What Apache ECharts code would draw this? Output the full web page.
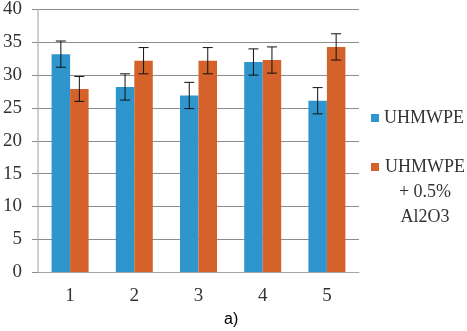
<!DOCTYPE html>
<html lang="en">
<head>
    <meta charset="UTF-8">
    <title>Chart</title>
    <script src="https://cdn.jsdelivr.net/npm/echarts@6/dist/echarts.min.js"></script>
</head>
<body style="margin:0">
    <div id="ec" style="width:467px;height:331px"></div>
</body>
<script>
    var categories = ['1', '2', '3', '4', '5']
    var names = ['UHMWPE', 'UHMWPE + 0.5% Al2O3']
    var pure = [33.2, 28.2, 26.9, 32.0, 26.1]
    var pureErr = [2.0, 2.0, 2.0, 2.0, 2.0]
    var filled = [27.9, 32.2, 32.2, 32.3, 34.3]
    var filledErr = [1.9, 2.0, 2.0, 2.0, 2.0]

    var barW = 18.5
    var serif = 'Liberation Serif'

    // [category index, low, high, side]
    var errData = []
    pure.forEach(function (v, i) { errData.push([i, v - pureErr[i], v + pureErr[i], -1]) })
    filled.forEach(function (v, i) { errData.push([i, v - filledErr[i], v + filledErr[i], 1]) })

    var mychart = echarts.init(document.getElementById('ec'))
    var options = {
        animation: false,
        grid: { left: 38, right: 108, top: 7, bottom: 59 },
        legend: [{
            orient: 'vertical',
            left: 366,
            top: 104,
            icon: 'rect',
            itemWidth: 8,
            itemHeight: 8,
            data: [names[0]],
            textStyle: { fontFamily: serif, fontSize: 18, color: '#333' }
        }, {
            orient: 'vertical',
            left: 366,
            top: 153,
            icon: 'rect',
            itemWidth: 8,
            itemHeight: 8,
            data: [names[1]],
            formatter: function () { return '{a|UHMWPE}\n{a|+ 0.5%}\n{a|Al2O3}' },
            textStyle: {
                fontFamily: serif, fontSize: 18, color: '#333',
                padding: [50, 0, 0, 0],
                rich: { a: { fontFamily: serif, fontSize: 18, color: '#333', width: 82, align: 'center', lineHeight: 25 } }
            }
        }],
        xAxis: {
            type: 'category',
            data: categories,
            axisLine: { lineStyle: { color: '#A6A6A6' } },
            axisTick: { length: 5, lineStyle: { color: '#A6A6A6' } },
            axisLabel: { fontFamily: serif, fontSize: 19, color: '#333', margin: 15 }
        },
        yAxis: {
            type: 'value',
            min: 0,
            max: 40,
            interval: 5,
            axisLine: { show: true, lineStyle: { color: '#BFBFBF', width: 1.5 } },
            axisTick: { show: true, length: 6, lineStyle: { color: '#8C8C8C' } },
            splitLine: { lineStyle: { color: '#8C8C8C' } },
            axisLabel: { fontFamily: serif, fontSize: 19, color: '#333', margin: 16 }
        },
        graphic: [{
            type: 'text',
            left: 224,
            top: 312,
            style: { text: 'a)', font: '16px "Liberation Sans"', fill: '#000' }
        }],
        series: [{
            name: names[0],
            type: 'bar',
            data: pure,
            barWidth: barW,
            barGap: '0%',
            itemStyle: { color: '#2E96CC' }
        }, {
            name: names[1],
            type: 'bar',
            data: filled,
            barWidth: barW,
            itemStyle: { color: '#D4622A' }
        }, {
            type: 'custom',
            data: errData,
            z: 10,
            renderItem: function (params, api) {
                var x = api.coord([api.value(0), 0])[0] + api.value(3) * barW / 2
                var lo = api.coord([api.value(0), api.value(1)])[1]
                var hi = api.coord([api.value(0), api.value(2)])[1]
                var s = { stroke: '#111', lineWidth: 1 }
                return {
                    type: 'group',
                    children: [
                        { type: 'line', shape: { x1: x, y1: lo, x2: x, y2: hi }, style: s },
                        { type: 'line', shape: { x1: x - 5, y1: lo, x2: x + 5, y2: lo }, style: s },
                        { type: 'line', shape: { x1: x - 5, y1: hi, x2: x + 5, y2: hi }, style: s }
                    ]
                }
            }
        }]
    }
    mychart.setOption(options)
</script>
</html>
